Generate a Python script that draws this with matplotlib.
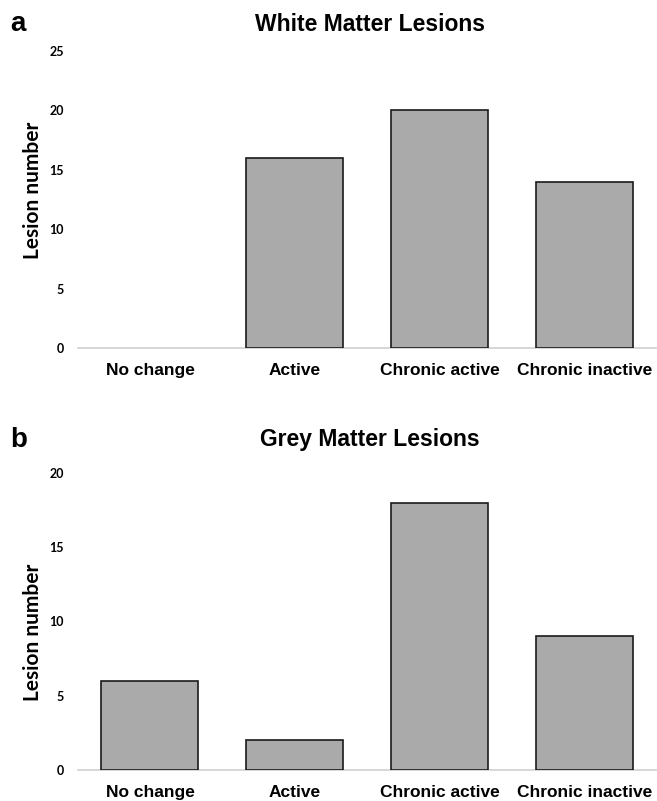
import matplotlib
matplotlib.use('Agg')
import matplotlib.pyplot as plt

categories = ['No change', 'Active', 'Chronic active', 'Chronic inactive']
white_matter = [0, 16, 20, 14]
grey_matter = [6, 2, 18, 9]
white_ticks = [0, 5, 10, 15, 20, 25]
grey_ticks = [0, 5, 10, 15, 20]

narrow = ['Liberation Sans Narrow', 'Liberation Sans', 'DejaVu Sans']
soft = ['Lato', 'Open Sans', 'DejaVu Sans']

fig = plt.figure(figsize=(6.57, 8.01), dpi=100)

panels = [
    ([0.118, 0.5655, 0.882, 0.3712], white_matter, white_ticks, 25, 'White Matter Lesions', 'a', 0.970, 0.53),
    ([0.118, 0.0387, 0.882, 0.3708], grey_matter, grey_ticks, 20, 'Grey Matter Lesions', 'b', 0.451, 0.465),
]

for rect, vals, ticks, top, title, letter, ty, ly in panels:
    ax = fig.add_axes(rect)
    x = range(len(categories))
    bars = ax.bar(x, vals, width=0.67, color='#aaaaaa', edgecolor='#1a1a1a', linewidth=1.2, zorder=3)
    # empty categories show no outline
    for b, v in zip(bars, vals):
        if v == 0:
            b.set_visible(False)
    ax.set_xlim(-0.5, 3.5)
    ax.set_ylim(0, top)
    ax.set_yticks(ticks)
    ax.set_yticklabels([str(t) for t in ticks], fontfamily=soft, fontweight='bold', fontsize=9)
    ax.set_xticks(list(x))
    ax.set_xticklabels(categories, fontfamily=narrow, fontweight='bold', fontsize=12.5)
    ax.tick_params(axis='both', length=0)
    ax.tick_params(axis='y', pad=10)
    ax.tick_params(axis='x', pad=11)
    for s in ['top', 'right', 'left']:
        ax.spines[s].set_visible(False)
    ax.spines['bottom'].set_color('#d0d0d0')
    ax.spines['bottom'].set_linewidth(1.2)
    ax.set_ylabel('Lesion number', fontfamily=soft, fontweight='bold', fontsize=15)
    ax.yaxis.set_label_coords(-35 / 579.5, ly)
    fig.text(0.563, ty, title, ha='center', va='center', fontfamily=narrow, fontweight='bold', fontsize=16.5)
    fig.text(0.015, ty, letter, ha='left', va='center', fontfamily=['Liberation Sans', 'DejaVu Sans'], fontweight='bold', fontsize=20)

fig.savefig('out.png', dpi=100)
